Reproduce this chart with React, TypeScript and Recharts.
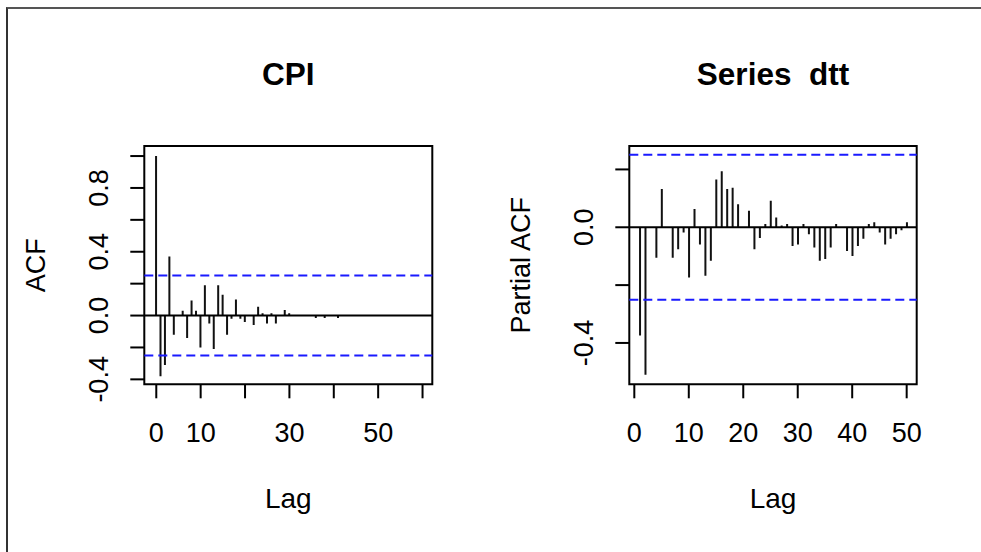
import { BarChart, Bar, XAxis, YAxis, ReferenceLine, ReferenceArea } from "recharts"

const FONT = '"Liberation Sans", Arial, Helvetica, sans-serif'

// CPI: autocorrelation, lags 0..60
const cpiLags = Array.from({ length: 61 }, (_, i) => i)
const cpiAcf = [
  1.0, -0.38, -0.31, 0.37, -0.12, 0, 0.03, -0.14, 0.095, 0.03,
  -0.2, 0.19, -0.05, -0.21, 0.19, 0.13, -0.12, -0.02, 0.1, -0.02,
  -0.04, 0, -0.06, 0.055, 0.015, -0.05, 0.015, -0.05, 0, 0.035,
  0.015, 0, 0, 0, 0, 0, -0.015, 0, -0.015, 0,
  0, -0.015, 0, 0, 0, 0, 0, 0, 0, 0,
  0, 0, 0, 0, 0, 0, 0, 0, 0, 0, 0,
]
const cpiXTicks = [0, 10, 20, 30, 40, 50, 60]
const cpiXLabels = [0, 10, 30, 50]
const cpiYTicks = [-0.4, -0.2, 0, 0.2, 0.4, 0.6, 0.8, 1.0]
const cpiYLabels = [-0.4, 0, 0.4, 0.8]

// dtt: partial autocorrelation, lags 1..50
const dttLags = Array.from({ length: 50 }, (_, i) => i + 1)
const dttPacf = [
  -0.374, -0.51, 0, -0.105, 0.132, 0, -0.105, -0.076, -0.018, -0.174,
  0.063, -0.06, -0.168, -0.116, 0.165, 0.194, 0.132, 0.137, 0.08, 0,
  0.057, -0.076, -0.037, 0.011, 0.092, 0.034, 0.006, 0.011, -0.065, -0.06,
  0.011, -0.024, -0.07, -0.116, -0.11, -0.07, 0.011, 0, -0.082, -0.099,
  -0.065, -0.04, 0.011, 0.017, -0.018, -0.06, -0.04, -0.024, -0.01, 0.017,
]
const dttXTicks = [0, 10, 20, 30, 40, 50]
const dttYTicks = [-0.4, -0.2, 0, 0.2]
const dttYLabels = [-0.4, 0]

const ciLimit = 0.251

const cpiData = cpiLags.map((lag, i) => ({ lag, value: cpiAcf[i] }))
const dttData = dttLags.map((lag, i) => ({ lag, value: dttPacf[i] }))

function RotatedTick(props: any) {
  const { x, y, payload, labels } = props
  const v = payload.value
  const show = labels.some((l: number) => Math.abs(l - v) < 1e-9)
  if (!show) return null
  return (
    <text
      x={x}
      y={y}
      transform={`rotate(-90 ${x} ${y})`}
      textAnchor="middle"
      fontSize={27}
      fontFamily={FONT}
      fill="#000"
    >
      {v.toFixed(1)}
    </text>
  )
}

type PanelProps = {
  data: { lag: number; value: number }[]
  width: number
  left: number
  marginLeft: number
  marginRight: number
  xDomain: [number, number]
  yDomain: [number, number]
  xTicks: number[]
  xLabels: number[]
  yTicks: number[]
  yLabels: number[]
}

function Panel(p: PanelProps) {
  return (
    <div style={{ position: "absolute", left: p.left, top: 0 }}>
      <BarChart
        width={p.width}
        height={552}
        data={p.data}
        margin={{ top: 146, right: p.marginRight, bottom: 107.7, left: p.marginLeft }}
        barSize={2}
      >
        <XAxis
          dataKey="lag"
          type="number"
          domain={p.xDomain}
          ticks={p.xTicks}
          interval={0}
          allowDataOverflow
          axisLine={false}
          tickSize={14}
          tickMargin={25}
          height={60}
          tickLine={{ stroke: "#000", strokeWidth: 2 }}
          tick={{ fontSize: 27, fill: "#000", fontFamily: FONT }}
          tickFormatter={(v: number) => (p.xLabels.includes(v) ? String(v) : "")}
        />
        <YAxis
          type="number"
          domain={p.yDomain}
          ticks={p.yTicks}
          interval={0}
          allowDataOverflow
          axisLine={false}
          tickSize={14}
          tickMargin={22}
          width={60}
          tickLine={{ stroke: "#000", strokeWidth: 2 }}
          tick={(t: any) => <RotatedTick {...t} labels={p.yLabels} />}
        />
        <ReferenceLine y={0} stroke="#000" strokeWidth={2} />
        <ReferenceLine y={ciLimit} stroke="#1a1aff" strokeWidth={2} strokeDasharray="9 5" />
        <ReferenceLine y={-ciLimit} stroke="#1a1aff" strokeWidth={2} strokeDasharray="9 5" />
        <Bar dataKey="value" fill="#111" isAnimationActive={false} />
        <ReferenceArea
          x1={p.xDomain[0]}
          x2={p.xDomain[1]}
          y1={p.yDomain[0]}
          y2={p.yDomain[1]}
          fill="none"
          stroke="#000"
          strokeWidth={2}
        />
      </BarChart>
    </div>
  )
}

export default function App() {
  return (
    <div
      style={{
        position: "absolute",
        left: 0,
        top: 0,
        width: 981,
        height: 552,
        background: "#fff",
        overflow: "hidden",
        fontFamily: FONT,
      }}
    >
      <div
        style={{
          position: "absolute",
          left: 6,
          top: 7,
          width: 990,
          height: 560,
          borderTop: "2px solid #555",
          borderLeft: "2px solid #333",
        }}
      />
      <Panel
        data={cpiData}
        width={490}
        left={0}
        marginLeft={84.3}
        marginRight={57.7}
        xDomain={[-2.7, 62.2]}
        yDomain={[-0.431, 1.063]}
        xTicks={cpiXTicks}
        xLabels={cpiXLabels}
        yTicks={cpiYTicks}
        yLabels={cpiYLabels}
      />
      <Panel
        data={dttData}
        width={491}
        left={490}
        marginLeft={79.3}
        marginRight={64.3}
        xDomain={[-0.92, 51.84]}
        yDomain={[-0.543, 0.281]}
        xTicks={dttXTicks}
        xLabels={dttXTicks}
        yTicks={dttYTicks}
        yLabels={dttYLabels}
      />
      <svg
        width={981}
        height={552}
        style={{ position: "absolute", left: 0, top: 0, pointerEvents: "none" }}
      >
        <g fontFamily={FONT} fill="#000">
          <text x={288.3} y={85} textAnchor="middle" fontSize={31.5} fontWeight="bold">
            CPI
          </text>
          <text
            x={773}
            y={85}
            textAnchor="middle"
            fontSize={31.5}
            fontWeight="bold"
            style={{ whiteSpace: "pre" }}
          >
            {"Series  dtt"}
          </text>
          <text x={288.3} y={507.5} textAnchor="middle" fontSize={28}>
            Lag
          </text>
          <text x={773} y={507.5} textAnchor="middle" fontSize={28}>
            Lag
          </text>
          <text x={45} y={265.2} textAnchor="middle" fontSize={27} transform="rotate(-90 45 265.2)">
            ACF
          </text>
          <text x={530} y={265.2} textAnchor="middle" fontSize={27} transform="rotate(-90 530 265.2)">
            Partial ACF
          </text>
        </g>
      </svg>
    </div>
  )
}
